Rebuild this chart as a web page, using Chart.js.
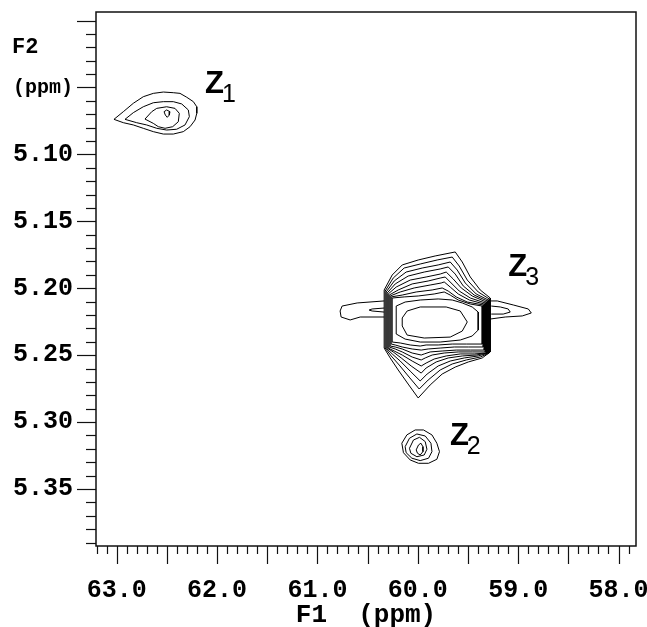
<!DOCTYPE html>
<html><head><meta charset="utf-8">
<script src="https://cdn.jsdelivr.net/npm/chart.js@4.4.1/dist/chart.umd.min.js"></script>
<style>html,body{margin:0;padding:0;background:#fff;}canvas{display:block;}</style>
</head><body>
<canvas id="c" width="647" height="627"></canvas>
<script>
// ---- axis ranges / ticks (ppm) ----
const xRange = [57.826, 63.206];
const yRange = [4.9936, 5.3926];
const xTickValues = [63, 62, 61, 60, 59, 58];
const xTickLabels = ['63.0', '62.0', '61.0', '60.0', '59.0', '58.0'];
const yTickValues = [5.10, 5.15, 5.20, 5.25, 5.30, 5.35];
const yTickLabels = ['5.10', '5.15', '5.20', '5.25', '5.30', '5.35'];
const xMinorStep = 0.1, xMajorStep = 0.5;
const yMinorStep = 0.01, yMajorStep = 0.05;
const xAxisTitle = 'F1  (ppm)';
const yAxisTitle = ['F2', '(ppm)'];

// ---- peak labels (F1, F2 in ppm) ----
const peakNames = ['Z', 'Z', 'Z'];
const peakSubs = ['1', '2', '3'];
const peakLabelX = [62.120, 59.680, 59.099];
const peakLabelY = [5.0541, 5.3170, 5.1908];

// ---- contour levels, [F1, F2] ppm, closed loops ----
const z1Contours = [
  [[63.027,5.0738],[62.934,5.0681],[62.834,5.0618],[62.735,5.0569],[62.635,5.0544],[62.535,5.0534],[62.436,5.0539],[62.369,5.0544],[62.302,5.0573],[62.236,5.0606],[62.202,5.0644],[62.202,5.0693],[62.219,5.0743],[62.269,5.0793],[62.336,5.0830],[62.436,5.0848],[62.535,5.0848],[62.635,5.0830],[62.735,5.0805],[62.834,5.0780],[62.934,5.0763]],
  [[62.917,5.0738],[62.834,5.0688],[62.735,5.0644],[62.635,5.0614],[62.535,5.0606],[62.436,5.0606],[62.352,5.0623],[62.286,5.0668],[62.276,5.0718],[62.319,5.0780],[62.402,5.0812],[62.502,5.0818],[62.601,5.0805],[62.701,5.0780],[62.801,5.0763]],
  [[62.718,5.0736],[62.651,5.0681],[62.601,5.0656],[62.502,5.0644],[62.419,5.0656],[62.376,5.0693],[62.386,5.0756],[62.442,5.0793],[62.518,5.0805],[62.585,5.0793],[62.635,5.0768]],
  [[62.528,5.0681],[62.502,5.0668],[62.469,5.0681],[62.476,5.0706],[62.496,5.0723],[62.515,5.0706]]
];
const z2Contours = [
  [[60.159,5.3158],[60.109,5.3096],[60.026,5.3059],[59.943,5.3059],[59.859,5.3096],[59.810,5.3158],[59.784,5.3221],[59.810,5.3278],[59.893,5.3308],[59.993,5.3308],[60.076,5.3283],[60.143,5.3229]],
  [[60.126,5.3184],[60.083,5.3121],[60.009,5.3089],[59.926,5.3104],[59.869,5.3158],[59.859,5.3221],[59.893,5.3270],[59.976,5.3288],[60.059,5.3270],[60.116,5.3229]],
  [[60.083,5.3196],[60.043,5.3134],[59.983,5.3114],[59.926,5.3146],[59.909,5.3203],[59.936,5.3246],[60.009,5.3259],[60.069,5.3233]],
  [[60.016,5.3208],[59.993,5.3171],[59.969,5.3158],[59.949,5.3184],[59.949,5.3221],[59.976,5.3246],[60.003,5.3233]]
];
const z3Contours = [
  [[60.335,5.2013],[60.255,5.1901],[60.155,5.1826],[59.996,5.1789],[59.827,5.1759],[59.627,5.1729],[59.557,5.1804],[59.477,5.1916],[59.378,5.2013],[59.278,5.2073],[59.278,5.2476],[59.358,5.2521],[59.497,5.2551],[59.627,5.2589],[59.757,5.2641],[59.877,5.2723],[59.996,5.2820],[60.096,5.2716],[60.195,5.2611],[60.275,5.2521],[60.335,5.2447]],
  [[60.325,5.2021],[60.245,5.1924],[60.136,5.1849],[59.976,5.1819],[59.807,5.1789],[59.657,5.1767],[59.587,5.1834],[59.507,5.1939],[59.398,5.2028],[59.288,5.2080],[59.288,5.2484],[59.378,5.2514],[59.517,5.2536],[59.657,5.2566],[59.777,5.2611],[59.897,5.2686],[59.986,5.2753],[60.086,5.2664],[60.185,5.2574],[60.265,5.2506],[60.325,5.2447]],
  [[60.315,5.2028],[60.235,5.1946],[60.116,5.1879],[59.956,5.1849],[59.797,5.1826],[59.677,5.1804],[59.607,5.1864],[59.527,5.1961],[59.418,5.2043],[59.298,5.2088],[59.298,5.2484],[59.398,5.2506],[59.537,5.2521],[59.677,5.2544],[59.797,5.2581],[59.907,5.2641],[59.976,5.2693],[60.076,5.2619],[60.175,5.2544],[60.255,5.2491],[60.315,5.2447]],
  [[60.305,5.2036],[60.225,5.1968],[60.096,5.1909],[59.936,5.1879],[59.777,5.1856],[59.697,5.1841],[59.627,5.1894],[59.547,5.1983],[59.438,5.2051],[59.308,5.2095],[59.308,5.2484],[59.418,5.2499],[59.557,5.2506],[59.697,5.2521],[59.817,5.2551],[59.917,5.2596],[59.966,5.2634],[60.066,5.2581],[60.165,5.2521],[60.245,5.2476],[60.305,5.2447]],
  [[60.295,5.2043],[60.215,5.1991],[60.076,5.1939],[59.917,5.1916],[59.777,5.1894],[59.717,5.1879],[59.647,5.1931],[59.567,5.1998],[59.458,5.2058],[59.318,5.2103],[59.318,5.2484],[59.438,5.2491],[59.577,5.2491],[59.717,5.2506],[59.837,5.2529],[59.917,5.2559],[59.966,5.2581],[60.056,5.2544],[60.155,5.2499],[60.235,5.2469],[60.295,5.2447]],
  [[60.285,5.2051],[60.195,5.2013],[60.056,5.1968],[59.897,5.1946],[59.777,5.1924],[59.727,5.1916],[59.667,5.1961],[59.587,5.2021],[59.477,5.2073],[59.328,5.2110],[59.328,5.2476],[59.458,5.2476],[59.597,5.2476],[59.737,5.2484],[59.857,5.2499],[59.926,5.2521],[59.966,5.2536],[60.056,5.2514],[60.155,5.2476],[60.225,5.2454],[60.285,5.2439]],
  [[60.275,5.2058],[60.175,5.2028],[60.036,5.1998],[59.877,5.1976],[59.767,5.1961],[59.737,5.1953],[59.677,5.1991],[59.597,5.2043],[59.487,5.2088],[59.338,5.2118],[59.338,5.2462],[59.477,5.2462],[59.617,5.2462],[59.757,5.2469],[59.877,5.2476],[59.936,5.2491],[59.966,5.2499],[60.056,5.2484],[60.155,5.2454],[60.225,5.2439],[60.275,5.2432]],
  [[60.265,5.2065],[60.155,5.2051],[60.016,5.2028],[59.857,5.2013],[59.757,5.1998],[59.697,5.2021],[59.617,5.2065],[59.507,5.2103],[59.348,5.2125],[59.348,5.2439],[59.497,5.2439],[59.637,5.2439],[59.777,5.2447],[59.897,5.2454],[59.966,5.2462],[60.056,5.2454],[60.155,5.2439],[60.225,5.2424],[60.265,5.2417]],
  [[60.255,5.2073],[60.136,5.2065],[59.996,5.2058],[59.837,5.2043],[59.737,5.2028],[59.677,5.2051],[59.597,5.2088],[59.477,5.2118],[59.358,5.2133],[59.358,5.2417],[59.517,5.2417],[59.657,5.2417],[59.797,5.2424],[59.917,5.2424],[59.976,5.2432],[60.076,5.2424],[60.175,5.2409],[60.255,5.2402]],
  [[60.215,5.2133],[60.126,5.2103],[59.976,5.2088],[59.797,5.2080],[59.657,5.2088],[59.557,5.2110],[59.458,5.2140],[59.398,5.2178],[59.398,5.2312],[59.458,5.2357],[59.577,5.2387],[59.777,5.2402],[59.976,5.2402],[60.126,5.2380],[60.215,5.2342]],
  [[60.155,5.2222],[60.106,5.2170],[59.976,5.2140],[59.717,5.2140],[59.577,5.2170],[59.507,5.2252],[59.557,5.2320],[59.677,5.2365],[59.936,5.2372],[60.106,5.2350],[60.155,5.2282]]
];
// open ridges of Z3 along F1
const z3Wings = [
  [[60.335,5.2095],[60.604,5.2110],[60.754,5.2133],[60.774,5.2170],[60.764,5.2215],[60.674,5.2237],[60.574,5.2215],[60.335,5.2215]],
  [[60.335,5.2148],[60.455,5.2155],[60.485,5.2163],[60.455,5.2170],[60.335,5.2178]],
  [[59.278,5.2095],[59.208,5.2095],[59.049,5.2125],[58.899,5.2155],[58.869,5.2185],[58.959,5.2207],[59.129,5.2215],[59.278,5.2230]],
  [[59.268,5.2133],[59.178,5.2140],[59.099,5.2155],[59.079,5.2178],[59.149,5.2193],[59.268,5.2193]]
];

const MONO = '"Liberation Mono", "DejaVu Sans Mono", monospace';
const SANS = '"Liberation Sans", Arial, sans-serif';

function lineDs(pts, closed) {
  const d = closed ? pts.concat([pts[0]]) : pts;
  return { data: d, showLine: true, borderColor: '#000', borderWidth: 1,
           pointRadius: 0, tension: 0, fill: false };
}
const datasets = [];
[z1Contours, z2Contours, z3Contours].forEach(g => g.forEach(c => datasets.push(lineDs(c, true))));
z3Wings.forEach(c => datasets.push(lineDs(c, false)));

function noPad(s) { s.paddingLeft = 0; s.paddingRight = 0; s.paddingTop = 0; s.paddingBottom = 0; }

const framePlugin = {
  id: 'frame',
  afterDraw(chart) {
    const { ctx, chartArea: a, scales: { x, y } } = chart;
    ctx.save();
    ctx.strokeStyle = '#111';
    ctx.lineWidth = 1.5;
    ctx.strokeRect(a.left, a.top, a.right - a.left, a.bottom - a.top);
    ctx.lineWidth = 1.2;
    const nx0 = Math.ceil(xRange[0] / xMinorStep - 1e-6), nx1 = Math.floor(xRange[1] / xMinorStep + 1e-6);
    const kx = Math.round(xMajorStep / xMinorStep);
    for (let i = nx0; i <= nx1; i++) {
      const px = Math.round(x.getPixelForValue(i * xMinorStep)) + 0.5;
      ctx.beginPath(); ctx.moveTo(px, a.bottom); ctx.lineTo(px, a.bottom + (i % kx === 0 ? 18 : 8)); ctx.stroke();
    }
    const ny0 = Math.ceil(yRange[0] / yMinorStep - 1e-6), ny1 = Math.floor(yRange[1] / yMinorStep + 1e-6);
    const ky = Math.round(yMajorStep / yMinorStep);
    for (let i = ny0; i <= ny1; i++) {
      const py = Math.round(y.getPixelForValue(i * yMinorStep)) + 0.5;
      ctx.beginPath(); ctx.moveTo(a.left, py); ctx.lineTo(a.left - (i % ky === 0 ? 19 : 10), py); ctx.stroke();
    }
    // y-axis title
    ctx.fillStyle = '#000';
    ctx.textAlign = 'left';
    ctx.textBaseline = 'alphabetic';
    ctx.font = 'bold 22px ' + MONO;
    ctx.fillText(yAxisTitle[0], 12, 53);
    ctx.font = 'bold 20px ' + MONO;
    ctx.fillText(yAxisTitle[1], 13, 93);
    // peak labels
    for (let i = 0; i < peakNames.length; i++) {
      const px = x.getPixelForValue(peakLabelX[i]);
      const py = y.getPixelForValue(peakLabelY[i]);
      ctx.font = 'bold 31px ' + SANS;
      ctx.fillText(peakNames[i], px, py);
      const w = ctx.measureText(peakNames[i]).width;
      ctx.font = '25px ' + SANS;
      ctx.fillText(peakSubs[i], px + w - 2, py + 9);
    }
    ctx.restore();
  }
};

new Chart(document.getElementById('c'), {
  type: 'scatter',
  data: { datasets },
  options: {
    responsive: false,
    animation: false,
    layout: { padding: { left: 0, top: 12, right: 11, bottom: 0 } },
    plugins: { legend: { display: false }, tooltip: { enabled: false } },
    scales: {
      x: {
        type: 'linear', reverse: true, min: xRange[0], max: xRange[1],
        afterBuildTicks: s => { s.ticks = xTickValues.map(v => ({ value: v })); },
        afterFit: s => { s.height = 81; noPad(s); },
        grid: { display: false, drawTicks: false, tickLength: 0 },
        border: { display: false },
        ticks: { autoSkip: false, maxRotation: 0, padding: 30, color: '#000',
                 font: { family: MONO, size: 25, weight: 'bold' },
                 callback: (v, i) => xTickLabels[i] },
        title: { display: true, text: xAxisTitle, color: '#000', padding: { top: 0, bottom: -4 },
                 font: { family: MONO, size: 26, weight: 'bold' } }
      },
      y: {
        type: 'linear', reverse: true, min: yRange[0], max: yRange[1],
        afterBuildTicks: s => { s.ticks = yTickValues.map(v => ({ value: v })); },
        afterFit: s => { s.width = 96; noPad(s); },
        grid: { display: false, drawTicks: false, tickLength: 0 },
        border: { display: false },
        ticks: { autoSkip: false, padding: 23, color: '#000',
                 font: { family: MONO, size: 25, weight: 'bold' },
                 callback: (v, i) => yTickLabels[i] }
      }
    }
  },
  plugins: [framePlugin]
});
</script>
</body></html>
